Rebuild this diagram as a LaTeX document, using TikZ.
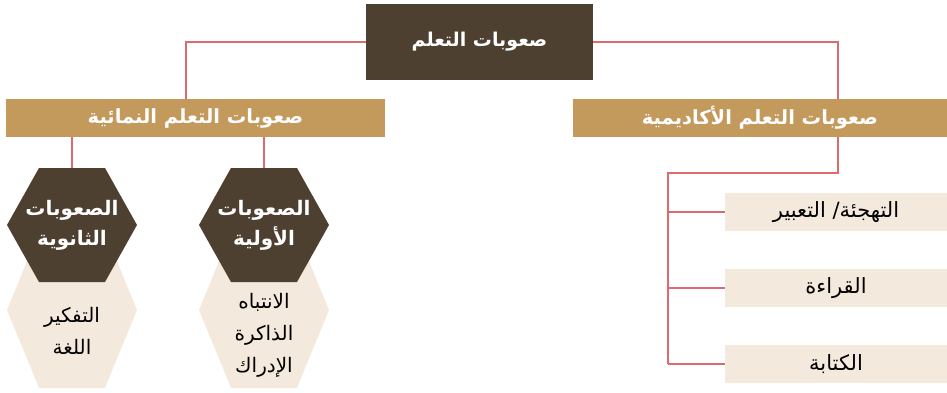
\documentclass[tikz,border=0pt]{standalone}
\usepackage{fontspec}
\newfontfamily\arabicfont[Script=Arabic]{DejaVu Sans}
\TeXXeTstate=1
\usetikzlibrary{backgrounds}
\definecolor{darkbrown}{HTML}{4D4030}
\definecolor{gold}{HTML}{C4995C}
\definecolor{beige}{HTML}{F3E9DC}
\definecolor{linkred}{HTML}{DC6A6E}
\newcommand\artxt[1]{\beginR#1\endR}

\begin{document}
\begin{tikzpicture}[x=1pt,y=-1pt,
	titlebox/.style={fill=darkbrown,text=white,minimum width=227pt,minimum height=76pt,font=\arabicfont\bfseries\fontsize{19}{22}\selectfont},
	barbox/.style={fill=gold,text=white,minimum height=38pt,inner sep=0pt,font=\arabicfont\bfseries\fontsize{19.5}{22}\selectfont},
	itembox/.style={fill=beige,minimum width=222pt,minimum height=38pt,inner sep=0pt,font=\arabicfont\fontsize{21}{24}\selectfont},
	hexhead/.style={minimum width=130pt,minimum height=114pt,text=white,align=center,font=\arabicfont\bfseries\fontsize{20}{30}\selectfont},
	hexlist/.style={align=center,font=\arabicfont\fontsize{20}{32}\selectfont},
	link/.style={draw=linkred,line width=1.2pt}]
	\useasboundingbox (0,0) rectangle (947,393);
	% boxes
	\node[titlebox] (root) at (479.5,42) {\artxt{صعوبات التعلم}};
	\node[barbox,minimum width=379pt] (dev) at (195.5,118) {\artxt{صعوبات التعلم النمائية}};
	\node[barbox,minimum width=374pt] (acad) at (760,118) {\artxt{صعوبات التعلم الأكاديمية}};
	% hexagons
	\node[hexhead] (second) at (72,225) {\artxt{الصعوبات}\\\artxt{الثانوية}};
	\node[hexhead] (prim) at (264,225) {\artxt{الصعوبات}\\\artxt{الأولية}};
	\node[hexlist] (secitems) at (72,331) {\artxt{التفكير}\\\artxt{اللغة}};
	\node[hexlist] (primitems) at (264,335) {\artxt{الانتباه}\\\artxt{الذاكرة}\\\artxt{الإدراك}};
	\begin{scope}[on background layer]
		\foreach \c in {72,264}{
			\fill[beige] (\c-65,310) -- (\c-33,232) -- (\c+33,232) -- (\c+65,310) -- (\c+33,388) -- (\c-33,388) -- cycle;
			\fill[darkbrown] (\c-65,225) -- (\c-33,168) -- (\c+33,168) -- (\c+65,225) -- (\c+33,282) -- (\c-33,282) -- cycle;
		}
	\end{scope}
	% academic items
	\node[itembox] (spell) at (836,212) {\artxt{التهجئة/ التعبير}};
	\node[itembox] (read) at (836,288) {\artxt{القراءة}};
	\node[itembox] (writ) at (836,364) {\artxt{الكتابة}};
	% connectors
	\draw[link] (root.west) -| ([xshift=-9.5pt]dev.north);
	\draw[link] (root.east) -| ([xshift=78pt]acad.north);
	\draw[link] (second.north) -- (second.north |- dev.south);
	\draw[link] (prim.north) -- (prim.north |- dev.south);
	\coordinate (spine) at (668,173);
	\draw[link] ([xshift=78pt]acad.south) |- (spine) -- (spine |- writ.west);
	\foreach \n in {spell,read,writ}
		\draw[link] (spine |- \n.west) -- (\n.west);
\end{tikzpicture}
\end{document}
